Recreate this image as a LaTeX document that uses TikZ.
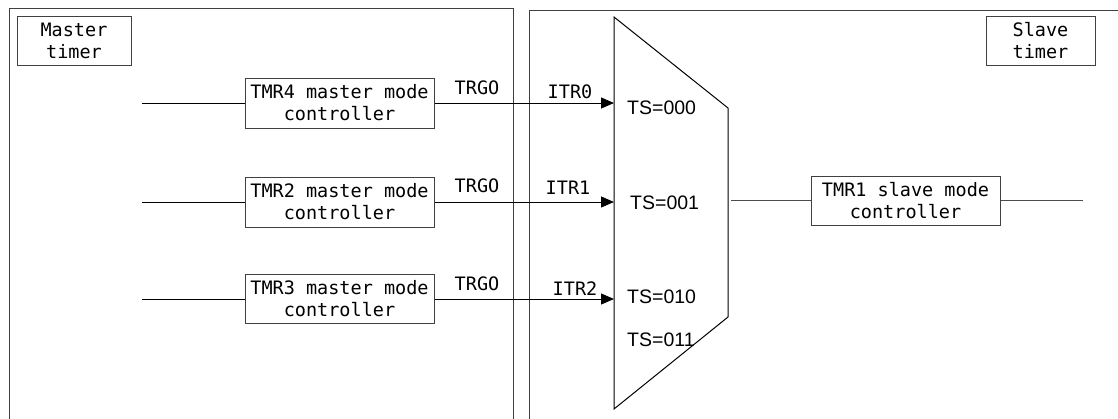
\documentclass[tikz,border=0pt]{standalone}
\usepackage{fontspec}
\setmonofont{DejaVu Sans Mono}
\newfontfamily\tsfont{Liberation Sans}
\usetikzlibrary{arrows.meta}
\tikzset{
  panel/.style={draw=black!75, line width=1pt},
  blk/.style={draw=black!75, line width=1pt, inner sep=0pt, align=center,
    font=\ttfamily\fontsize{18.5}{22}\selectfont},
  lbl/.style={inner sep=0pt, font=\ttfamily\fontsize{18.5}{22}\selectfont},
  tslbl/.style={inner sep=0pt, anchor=west, font=\tsfont\fontsize{19.5}{22}\selectfont},
  wire/.style={draw=black, line width=1pt},
  sig/.style={draw=black, line width=1pt, -{Triangle[length=13pt,width=11pt]}},
}
\begin{document}
\begin{tikzpicture}[x=1pt,y=-1pt]
\useasboundingbox (0,0) rectangle (1118,418);
% panels
\draw[panel] (9,420) -- (9,8.5) -- (513,8.5) -- (513,420);
\draw[panel] (1120,10) -- (529,10) -- (529,420);
% panel titles
\node[blk, minimum width=114pt, minimum height=49pt] (mt) at (74,40.5) {Master\\timer};
\node[blk, minimum width=109pt, minimum height=49pt] (st) at (1040.5,40.5) {Slave\\timer};
% master controllers
\node[blk, minimum width=189pt, minimum height=50pt] (m4) at (339.5,103) {TMR4 master mode\\controller};
\node[blk, minimum width=189pt, minimum height=50pt] (m2) at (339.5,202) {TMR2 master mode\\controller};
\node[blk, minimum width=189pt, minimum height=49pt] (m3) at (339.5,299) {TMR3 master mode\\controller};
% input wires
\coordinate (i4) at (142,103);
\coordinate (i2) at (142,202);
\coordinate (i3) at (142,299);
\draw[wire] (i4) -- (m4.west);
\draw[wire] (i2) -- (m2.west);
\draw[wire] (i3) -- (m3.west);
% multiplexer
\coordinate (mtl) at (614,17);
\coordinate (mtr) at (728,108);
\coordinate (mbr) at (728,317);
\coordinate (mbl) at (614,409);
\draw[line width=1pt, line join=miter] (mtl) -- (mtr) -- (mbr) -- (mbl) -- cycle;
\coordinate (a0) at (614,103);
\coordinate (a1) at (614,202);
\coordinate (a2) at (614,299);
\draw[sig] (m4.east) -- (a0);
\draw[sig] (m2.east) -- (a1);
\draw[sig] (m3.east) -- (a2);
% labels
\node[lbl] (t4) at (477,88) {TRGO};
\node[lbl] (t2) at (477,186) {TRGO};
\node[lbl] (t3) at (477,284) {TRGO};
\node[lbl] (r0) at (570,92) {ITR0};
\node[lbl] (r1) at (568,188) {ITR1};
\node[lbl] (r2) at (575,289) {ITR2};
\node[tslbl] (s0) at (627,108) {TS=000};
\node[tslbl] (s1) at (630,203) {TS=001};
\node[tslbl] (s2) at (627,297) {TS=010};
\node[tslbl] (s3) at (627,340) {TS=011};
% slave controller
\node[blk, minimum width=189pt, minimum height=49pt] (sl) at (905.5,200.5) {TMR1 slave mode\\controller};
\coordinate (mo) at (731,200.5);
\coordinate (so) at (1083,200.5);
\draw[wire, draw=black!70] (mo) -- (sl.west);
\draw[wire, draw=black!70] (sl.east) -- (so);
\end{tikzpicture}
\end{document}
